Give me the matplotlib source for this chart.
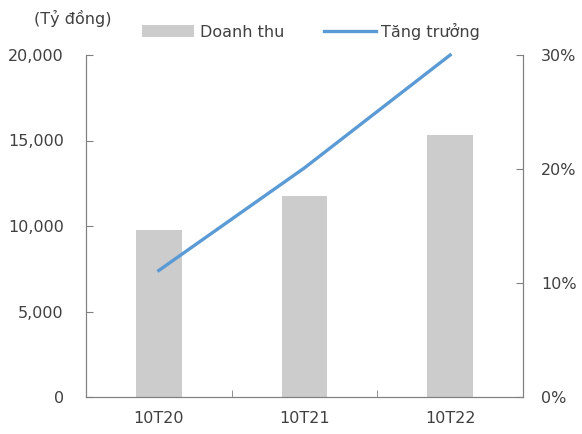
import matplotlib
matplotlib.use("Agg")
import matplotlib.pyplot as plt
from matplotlib.ticker import FuncFormatter

periods = ["10T20", "10T21", "10T22"]
revenue = [9770, 11750, 15300]      # Tỷ đồng
growth = [11.1, 20.1, 30.0]         # %

plt.rcParams['font.family'] = ['DejaVu Sans']
txt = '#404040'
fs = 11.5

W, H = 582, 434
fig = plt.figure(figsize=(W / 100, H / 100), dpi=100)
ax = fig.add_axes([86 / W, 1 - 397 / H, 437 / W, 342 / H])
ax2 = ax.twinx()

x = list(range(len(periods)))
ax.bar(x, revenue, width=0.315, color='#cccccc', label='Doanh thu', zorder=2)
ax2.plot(x, growth, color='#5b9bd5', lw=2.4, label='Tăng trưởng', clip_on=False)

ax.set_xlim(-0.5, 2.5)
ax.set_ylim(0, 20000)
ax.set_yticks([0, 5000, 10000, 15000, 20000])
ax.yaxis.set_major_formatter(FuncFormatter(lambda v, p: f"{int(v):,}"))
ax2.set_ylim(0, 30)
ax2.set_yticks([0, 10, 20, 30])
ax2.yaxis.set_major_formatter(FuncFormatter(lambda v, p: f"{int(v)}%"))

ax.set_xticks(x)
ax.set_xticklabels(periods)
ax.set_xticks([0.5, 1.5], minor=True)
ax.tick_params(axis='x', which='major', length=0, pad=10, labelsize=fs, colors=txt)
ax.tick_params(axis='x', which='minor', direction='in', length=5, color='#808080')
ax.tick_params(axis='y', direction='in', length=5, color='#808080',
               labelsize=fs, labelcolor=txt, pad=16)
ax2.tick_params(axis='y', direction='in', length=5, color='#808080',
                labelsize=fs, labelcolor=txt, pad=13)

for a in (ax, ax2):
    a.spines['top'].set_visible(False)
    for s in ('left', 'right', 'bottom'):
        a.spines[s].set_color('#808080')

fig.text(73 / W, 1 - 18 / H, "(Tỷ đồng)", fontsize=fs, color=txt, ha='center', va='center')

h1, l1 = ax.get_legend_handles_labels()
h2, l2 = ax2.get_legend_handles_labels()
fig.legend(h1 + h2, l1 + l2, loc='center left', bbox_to_anchor=(142 / W, 1 - 31 / H),
           ncol=2, frameon=False, fontsize=fs, labelcolor=txt,
           borderpad=0, borderaxespad=0,
           handlelength=3.25, handleheight=0.75, handletextpad=0.35, columnspacing=2.5)

fig.savefig("out.png", dpi=100)
